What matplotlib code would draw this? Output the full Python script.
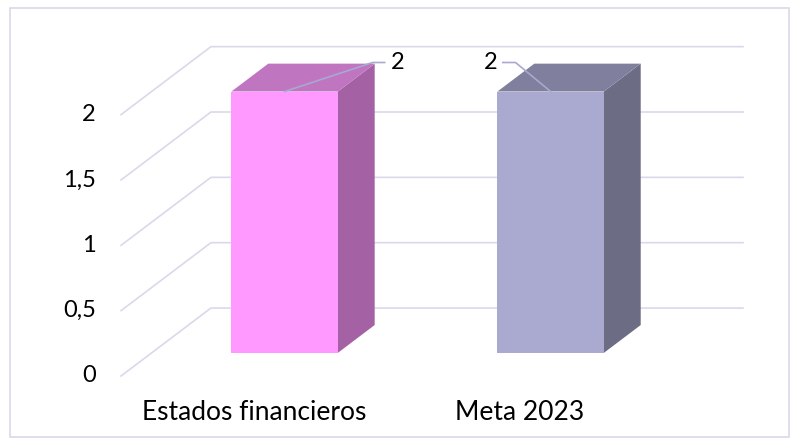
import matplotlib.pyplot as plt
from matplotlib.patches import Polygon, Rectangle

categories = ["Estados financieros", "Meta 2023"]
values = [2, 2]
front_colors = ["#FF99FF", "#AAAAD0"]
side_colors = ["#A462A4", "#6C6C84"]
top_colors = ["#C075C0", "#80809E"]
ticks = [0, 0.5, 1, 1.5, 2]
tick_labels = ["0", "0,5", "1", "1,5", "2"]

# oblique 3D projection: full depth offset in data units
DX, DY = 0.338, 0.52
Z0, Z1 = 0.34, 0.75   # bar depth range
W = 0.4               # bar width
GRID = "#D9D9EC"


def proj(x, v, z):
    return x + z * DX, v + z * DY


plt.rcParams['font.family'] = ['Lato', 'DejaVu Sans']
fig = plt.figure(figsize=(7.97, 4.45), dpi=100)
ax = fig.add_axes([0, 0, 1, 1])
ax.set_xlim(-0.955, 2.041)
ax.set_ylim(-0.528, 2.877)
ax.axis('off')

fig.patches.append(Rectangle((10 / 797, 8 / 445), 779 / 797, 429 / 445,
                             transform=fig.transFigure, fill=False,
                             edgecolor="#D9D9E8", lw=1.2))

# side wall diagonals and back wall gridlines
for t, lab in zip(ticks, tick_labels):
    a = proj(-0.5, t, 0)
    b = proj(-0.5, t, 1)
    c = proj(1.5, t, 1)
    ax.plot([a[0], b[0], c[0]], [a[1], b[1], c[1]], color=GRID, lw=1.2,
            zorder=1)
    ax.text(-0.5 - 0.095, t, lab, ha='right', va='center', fontsize=17,
            color='black')

# bars
for i, (v, fc, sc, tc) in enumerate(zip(values, front_colors, side_colors,
                                        top_colors)):
    x0, x1 = i - W / 2, i + W / 2
    front = [proj(x0, 0, Z0), proj(x1, 0, Z0), proj(x1, v, Z0), proj(x0, v, Z0)]
    side = [proj(x1, 0, Z0), proj(x1, 0, Z1), proj(x1, v, Z1), proj(x1, v, Z0)]
    top = [proj(x0, v, Z0), proj(x1, v, Z0), proj(x1, v, Z1), proj(x0, v, Z1)]
    ax.add_patch(Polygon(side, closed=True, facecolor=sc, edgecolor='none',
                         zorder=3))
    ax.add_patch(Polygon(top, closed=True, facecolor=tc, edgecolor='none',
                         zorder=3))
    ax.add_patch(Polygon(front, closed=True, facecolor=fc, edgecolor='none',
                         zorder=4))
    ax.text(i, -0.28, categories[i], ha='center', va='center', fontsize=19,
            color='black')

# data labels with leader lines
leaders = [((0.331, 0.222), (0.376, 0.222), 0.400, 'left'),
           ((-0.132, 0.222), (-0.180, 0.222), -0.200, 'right')]
for i, (v, (p1, p2, tx, ha)) in enumerate(zip(values, leaders)):
    sx, sy = proj(i, v, Z0)
    ax.plot([sx, sx + p1[0], sx + p2[0]], [sy, sy + p1[1], sy + p2[1]],
            color="#A8A8D0", lw=1.2, zorder=5)
    ax.text(sx + tx, sy + p2[1], f"{v:g}", ha=ha, va='center', fontsize=17,
            color='black', zorder=6)

fig.savefig("out.png", dpi=100)
